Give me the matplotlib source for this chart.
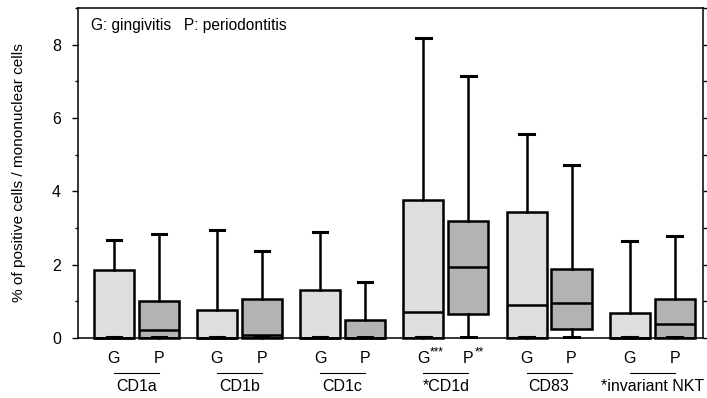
import matplotlib
matplotlib.use("Agg")
import matplotlib.pyplot as plt
import numpy as np
from matplotlib.ticker import MultipleLocator

plt.rcParams['font.family'] = ['Liberation Sans', 'DejaVu Sans']

groups = ["CD1a", "CD1b", "CD1c", "*CD1d", "CD83", "*invariant NKT"]
g_labels = ["G", "G", "G", "G", "G", "G"]
p_labels = ["P", "P", "P", "P", "P", "P"]
g_stars = ["", "", "", "***", "", ""]
p_stars = ["", "", "", "**", "", ""]

# gingivitis (G): lower whisker, q1, median, q3, upper whisker
g_low = [0.02, 0.02, 0.02, 0.02, 0.02, 0.02]
g_q1 = [0, 0, 0, 0, 0, 0]
g_med = [0, 0, 0, 0.70, 0.90, 0]
g_q3 = [1.84, 0.77, 1.31, 3.77, 3.43, 0.67]
g_high = [2.68, 2.95, 2.88, 8.19, 5.57, 2.65]

# periodontitis (P)
p_low = [0.02, 0.02, 0.02, 0.02, 0.02, 0.02]
p_q1 = [0, 0, 0, 0.65, 0.24, 0]
p_med = [0.22, 0.07, 0, 1.93, 0.95, 0.39]
p_q3 = [1.02, 1.06, 0.49, 3.20, 1.88, 1.07]
p_high = [2.83, 2.38, 1.52, 7.15, 4.71, 2.77]

g_color = "#dedede"
p_color = "#b3b3b3"

fig = plt.figure(figsize=(7.07, 3.98), dpi=100)
ax = fig.add_axes([0.110, 0.151, 0.884, 0.829])

x = np.arange(len(groups))
off = 0.218
w = 0.388

def stats(lo, q1, med, q3, hi):
    return [dict(whislo=a, q1=b, med=c, q3=d, whishi=e, fliers=[])
            for a, b, c, d, e in zip(lo, q1, med, q3, hi)]

common = dict(widths=w, patch_artist=True, showfliers=False, manage_ticks=False,
              whiskerprops=dict(color="black", linewidth=1.8),
              capprops=dict(color="black", linewidth=2.2),
              medianprops=dict(color="black", linewidth=1.8),
              capwidths=0.14)

bg = ax.bxp(stats(g_low, g_q1, g_med, g_q3, g_high), positions=x - off,
            boxprops=dict(facecolor=g_color, edgecolor="black", linewidth=1.8), **common)
bp = ax.bxp(stats(p_low, p_q1, p_med, p_q3, p_high), positions=x + off,
            boxprops=dict(facecolor=p_color, edgecolor="black", linewidth=1.8), **common)
for b in (bg, bp):
    for k, arts in b.items():
        for a in arts:
            a.set_clip_on(False)

ax.set_xlim(-0.567, 5.49)
ax.set_ylim(0, 9)
ax.set_xticks([])
ax.yaxis.set_major_locator(MultipleLocator(2))
ax.yaxis.set_minor_locator(MultipleLocator(1))
ax.tick_params(axis='y', which='major', direction='out', length=4, width=1, labelsize=11.5, pad=8)
ax.tick_params(axis='y', which='minor', direction='out', length=2.5, width=1)
for s in ax.spines.values():
    s.set_linewidth(1.1)

# right axis ticks
ax2 = ax.twinx()
ax2.set_ylim(0, 9)
ax2.yaxis.set_major_locator(MultipleLocator(1))
ax2.tick_params(axis='y', which='major', direction='out', length=3, width=1, labelright=False)
for s in ax2.spines.values():
    s.set_visible(False)

ax.set_ylabel("% of positive cells / mononuclear cells", fontsize=11.1)
ax.yaxis.set_label_coords(-0.083, 0.5)

ax.text(0.021, 0.948, "G: gingivitis   P: periodontitis", transform=ax.transAxes,
        fontsize=11.2, ha="left", va="center")

trans = ax.get_xaxis_transform()
for i in range(len(groups)):
    ax.text(x[i] - off, -0.061, g_labels[i], transform=trans, ha="center", va="center", fontsize=11.5)
    ax.text(x[i] + off, -0.061, p_labels[i], transform=trans, ha="center", va="center", fontsize=11.5)
    if g_stars[i]:
        ax.annotate(g_stars[i], xy=(x[i] - off, -0.061), xycoords=trans, xytext=(4.5, 0),
                    textcoords="offset points", ha="left", va="bottom", fontsize=8.5)
    if p_stars[i]:
        ax.annotate(p_stars[i], xy=(x[i] + off, -0.061), xycoords=trans, xytext=(4.5, 0),
                    textcoords="offset points", ha="left", va="bottom", fontsize=8.5)
    ax.plot([x[i] - off, x[i] + off], [-0.106, -0.106], transform=trans, color="black",
            linewidth=0.8, clip_on=False)
    ax.text(x[i], -0.148, groups[i], transform=trans, ha="center", va="center", fontsize=11.5)

fig.savefig("out.png", dpi=100)
